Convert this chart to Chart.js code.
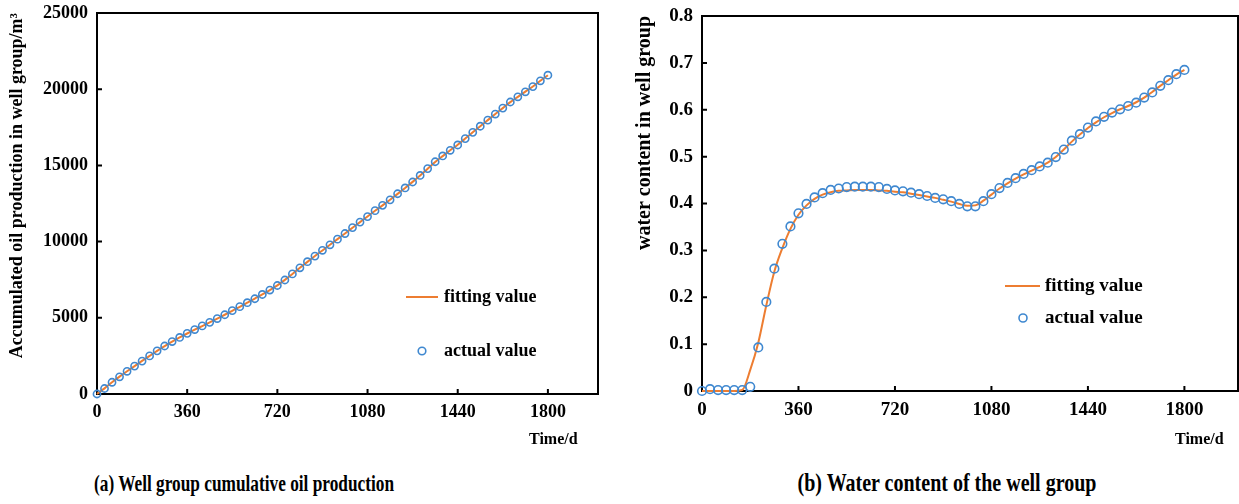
<!DOCTYPE html>
<html>
<head>
<meta charset="utf-8">
<script src="https://cdn.jsdelivr.net/npm/chart.js@4.4.1/dist/chart.umd.min.js"></script>
<style>
  html, body { margin: 0; padding: 0; background: #fff; }
  body { width: 1239px; height: 504px; position: relative; overflow: hidden;
         font-family: "Liberation Serif", "Times New Roman", serif; font-weight: bold; color: #000; }
  .box { position: absolute; top: 0; height: 460px; }
  #leftBox { left: 0; width: 620px; }
  #rightBox { left: 620px; width: 619px; }
  .xtitle { position: absolute; font-size: 16px; top: 430px; }
  .caption { position: absolute; top: 470px; white-space: nowrap; }
  #capA { left: 244px; font-size: 24px; transform: translateX(-50%) scaleX(0.72); }
  #capB { left: 947px; font-size: 25px; top: 469px; transform: translateX(-50%) scaleX(0.8); }
</style>
</head>
<body>
<div class="box" id="leftBox"><canvas id="oilChart"></canvas></div>
<div class="box" id="rightBox"><canvas id="waterChart"></canvas></div>
<div class="xtitle" style="left:529px">Time/d</div>
<div class="xtitle" style="left:1175px">Time/d</div>
<div class="caption" id="capA">(a) Well group cumulative oil production</div>
<div class="caption" id="capB">(b) Water content of the well group</div>

<script>
// sampling days (every 30 d)
const days = [0, 30, 60, 90, 120, 150, 180, 210, 240, 270, 300, 330, 360, 390, 420, 450, 480, 510, 540, 570,
  600, 630, 660, 690, 720, 750, 780, 810, 840, 870, 900, 930, 960, 990, 1020, 1050, 1080, 1110, 1140, 1170,
  1200, 1230, 1260, 1290, 1320, 1350, 1380, 1410, 1440, 1470, 1500, 1530, 1560, 1590, 1620, 1650, 1680, 1710,
  1740, 1770, 1800];
const timeTicks = [0, 360, 720, 1080, 1440, 1800];
const oilTicks = [0, 5000, 10000, 15000, 20000, 25000];
const waterTicks = [0, 0.1, 0.2, 0.3, 0.4, 0.5, 0.6, 0.7, 0.8];

// (a) cumulative oil, m3
const oilActual = [0, 360, 770, 1130, 1490, 1830, 2160, 2500, 2830, 3150, 3440, 3710, 3980, 4230, 4470, 4700,
  4950, 5200, 5470, 5730, 5990, 6250, 6530, 6820, 7120, 7480, 7880, 8280, 8680, 9050, 9430, 9790, 10160, 10530,
  10920, 11280, 11640, 12030, 12380, 12740, 13140, 13520, 13910, 14340, 14790, 15240, 15620, 15990, 16340,
  16760, 17170, 17570, 17970, 18370, 18760, 19160, 19500, 19830, 20170, 20550, 20920];
const oilFit = [0, 370, 770, 1140, 1490, 1830, 2170, 2500, 2830, 3140, 3440, 3710, 3970, 4220, 4460, 4700,
  4950, 5200, 5460, 5720, 5990, 6260, 6530, 6820, 7130, 7490, 7880, 8280, 8670, 9050, 9420, 9790, 10160, 10530,
  10910, 11280, 11650, 12020, 12380, 12750, 13130, 13520, 13920, 14340, 14780, 15220, 15610, 15990, 16360,
  16760, 17170, 17570, 17970, 18370, 18760, 19150, 19500, 19840, 20180, 20550, 20920];

// (b) water content
const waterActual = [0, 0.004, 0.002, 0.002, 0.002, 0.002, 0.009, 0.093, 0.190, 0.261, 0.314, 0.351, 0.379,
  0.399, 0.413, 0.422, 0.429, 0.432, 0.435, 0.436, 0.436, 0.436, 0.435, 0.431, 0.428, 0.426, 0.423, 0.420,
  0.416, 0.412, 0.409, 0.405, 0.399, 0.394, 0.394, 0.405, 0.420, 0.433, 0.444, 0.454, 0.463, 0.471, 0.479,
  0.487, 0.499, 0.515, 0.534, 0.548, 0.562, 0.575, 0.585, 0.594, 0.601, 0.608, 0.615, 0.626, 0.637, 0.651,
  0.663, 0.676, 0.685];
const waterFit = [0, 0, 0, 0, 0, 0.002, 0.045, 0.103, 0.183, 0.255, 0.305, 0.346, 0.376, 0.396, 0.410, 0.419,
  0.424, 0.427, 0.428, 0.429, 0.429, 0.429, 0.428, 0.427, 0.425, 0.424, 0.421, 0.418, 0.415, 0.412, 0.408,
  0.404, 0.399, 0.395, 0.396, 0.406, 0.419, 0.432, 0.443, 0.453, 0.462, 0.470, 0.478, 0.487, 0.499, 0.515,
  0.532, 0.547, 0.561, 0.573, 0.584, 0.593, 0.601, 0.608, 0.616, 0.626, 0.638, 0.651, 0.663, 0.675, 0.685];

const FONT = "'Liberation Serif', 'Times New Roman', serif";
const ORANGE = "#ED7D31";
const BLUE = "#3F88D0";

// box, inward ticks and in-plot legend
const framePlugin = {
  id: "frame",
  beforeDatasetsDraw(chart) {
    const { ctx, chartArea: a, scales } = chart;
    ctx.save();
    ctx.strokeStyle = "#000";
    ctx.lineWidth = 2;
    ctx.strokeRect(a.left, a.top, a.right - a.left, a.bottom - a.top);
    ctx.beginPath();
    scales.x.ticks.forEach((t) => {
      if (t.value === 0) return;
      const px = scales.x.getPixelForValue(t.value);
      ctx.moveTo(px, a.bottom);
      ctx.lineTo(px, a.bottom - 5);
    });
    scales.y.ticks.forEach((t) => {
      if (t.value === 0) return;
      const py = scales.y.getPixelForValue(t.value);
      ctx.moveTo(a.left, py);
      ctx.lineTo(a.left + 5, py);
    });
    ctx.stroke();
    ctx.restore();
  },
  afterDraw(chart, args, opts) {
    const { ctx, chartArea: a } = chart;
    const lg = opts.legend;
    if (!lg) return;
    ctx.save();
    ctx.font = "bold " + lg.size + "px " + FONT;
    ctx.fillStyle = "#000";
    ctx.textBaseline = "middle";
    // fitting value
    ctx.strokeStyle = ORANGE;
    ctx.lineWidth = 2;
    ctx.beginPath();
    ctx.moveTo(a.left + lg.lineX0, a.top + lg.lineY);
    ctx.lineTo(a.left + lg.lineX1, a.top + lg.lineY);
    ctx.stroke();
    ctx.fillText("fitting value", a.left + lg.textX, a.top + lg.lineY);
    // actual value
    ctx.strokeStyle = BLUE;
    ctx.lineWidth = 1.6;
    ctx.beginPath();
    ctx.arc(a.left + lg.dotX, a.top + lg.dotY, lg.r, 0, Math.PI * 2);
    ctx.stroke();
    ctx.fillText("actual value", a.left + lg.textX, a.top + lg.dotY);
    ctx.restore();
  },
};

function pairs(xs, ys) {
  return xs.map((x, i) => ({ x, y: ys[i] }));
}

function makeChart(id, cfg) {
  return new Chart(document.getElementById(id), {
    type: "scatter",
    data: {
      datasets: [
        {
          label: "actual value",
          data: pairs(days, cfg.actual),
          showLine: false,
          pointStyle: "circle",
          pointRadius: cfg.r,
          pointBorderWidth: 1.6,
          pointBorderColor: BLUE,
          pointBackgroundColor: "rgba(0,0,0,0)",
          clip: false,
          order: 0,
        },
        {
          label: "fitting value",
          data: pairs(days, cfg.fit),
          showLine: true,
          borderColor: ORANGE,
          borderWidth: 2,
          pointRadius: 0,
          cubicInterpolationMode: "monotone",
          clip: false,
          order: 1,
        },
      ],
    },
    options: {
      responsive: true,
      maintainAspectRatio: false,
      animation: false,
      layout: {
        autoPadding: false,
        padding: { top: cfg.padTop, right: cfg.padRight, left: 0, bottom: 0 },
      },
      scales: {
        x: {
          type: "linear",
          min: 0,
          max: 2000,
          afterBuildTicks: (s) => { s.ticks = timeTicks.map((v) => ({ value: v })); },
          afterFit: (s) => { s.height = cfg.xHeight; },
          ticks: { color: "#000", padding: 8, maxRotation: 0, autoSkip: false,
                   callback: (v) => String(v),
                   font: { family: FONT, size: cfg.xFont, weight: "bold" } },
          grid: { display: false, drawTicks: false },
          border: { display: false },
        },
        y: {
          min: 0,
          max: cfg.yTicks[cfg.yTicks.length - 1],
          afterBuildTicks: (s) => { s.ticks = cfg.yTicks.map((v) => ({ value: v })); },
          afterFit: (s) => { s.width = cfg.yWidth; s.paddingTop = 0; s.paddingBottom = 0; },
          ticks: { color: "#000", padding: cfg.yPad, autoSkip: false,
                   callback: (v) => String(v),
                   font: { family: FONT, size: cfg.yFont, weight: "bold" } },
          grid: { display: false, drawTicks: false },
          border: { display: false },
          title: { display: true, text: cfg.yTitle, align: "end", color: "#000",
                   padding: { top: cfg.titlePad, bottom: 0 },
                   font: { family: FONT, size: cfg.titleFont, weight: "bold" } },
        },
      },
      plugins: {
        legend: { display: false },
        tooltip: { enabled: false },
        frame: { legend: cfg.legend },
      },
    },
    plugins: [framePlugin],
  });
}

makeChart("oilChart", {
  actual: oilActual, fit: oilFit, r: 3.6,
  yTicks: oilTicks, yWidth: 97, yPad: 9, yFont: 18, xFont: 18,
  titlePad: 7, titleFont: 18,
  yTitle: "Accumulated oil production in well group/m\u00B3",
  xHeight: 66, padTop: 13, padRight: 22,
  legend: { lineX0: 309, lineX1: 341, lineY: 284, dotX: 325, dotY: 338, r: 3.8, textX: 347, size: 18 },
});

makeChart("waterChart", {
  actual: waterActual, fit: waterFit, r: 4.3,
  yTicks: waterTicks, yWidth: 82, yPad: 9, yFont: 19, xFont: 19,
  titlePad: 13, titleFont: 20,
  yTitle: "water content in well group",
  xHeight: 69, padTop: 16, padRight: 1,
  legend: { lineX0: 303, lineX1: 338, lineY: 270, dotX: 321, dotY: 302, r: 4, textX: 343, size: 19 },
});
</script>
</body>
</html>
